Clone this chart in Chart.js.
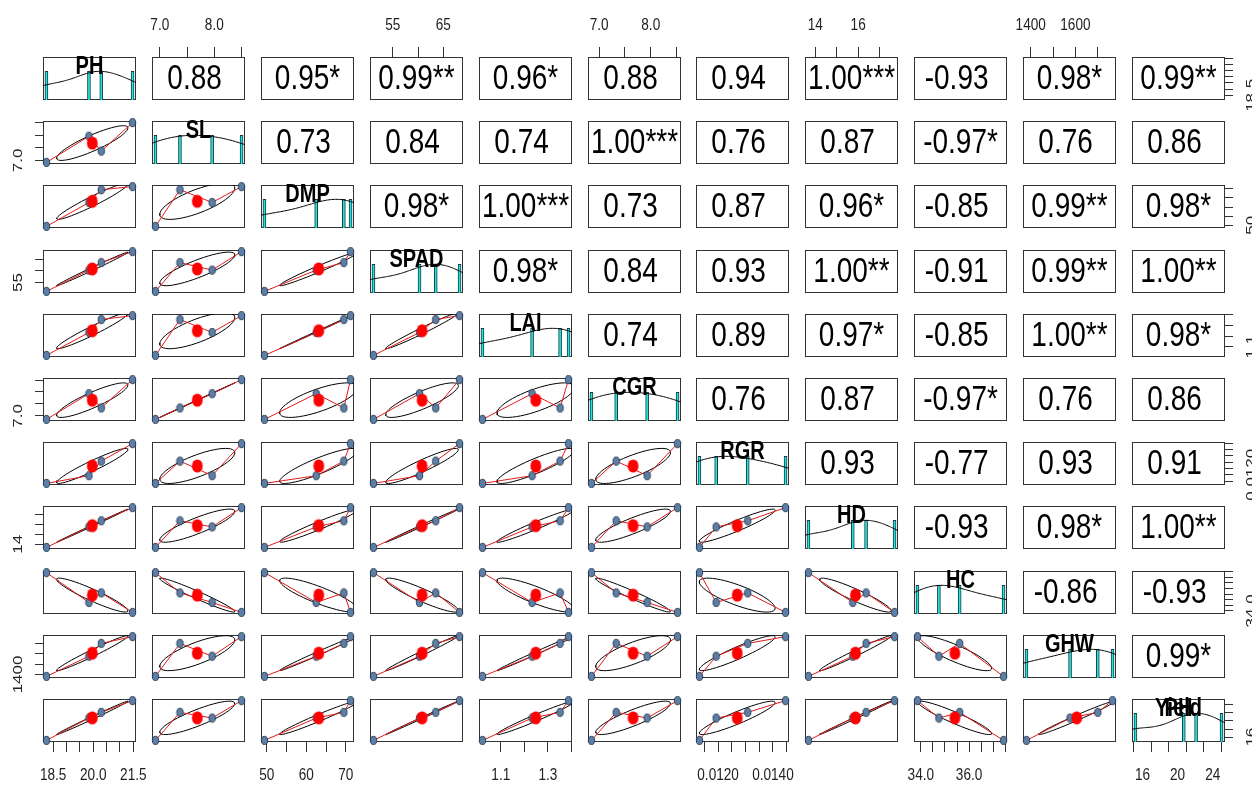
<!DOCTYPE html>
<html>
<head>
<meta charset="utf-8">
<script src="https://cdn.jsdelivr.net/npm/chart.js@4.4.1/dist/chart.umd.min.js"></script>
<style>
  html, body { margin: 0; padding: 0; background: #fff; }
  #wrap { position: relative; width: 1252px; height: 785px; overflow: hidden; }
  #wrap canvas { position: absolute; }
</style>
</head>
<body>
<div id="wrap"></div>
<script>
// variables (4 observations each, same order)
const names = ["PH", "SL", "DMP", "SPAD", "LAI", "CGR", "RGR", "HD", "HC", "GHW", "Yield"];
const PH    = [18.25, 19.84, 20.30, 21.47];
const SL    = [6.92, 7.96, 7.37, 8.50];
const DMP   = [49.4, 62.5, 69.5, 71.2];
const SPAD  = [51.2, 60.3, 63.5, 68.2];
const LAI   = [1.022, 1.233, 1.352, 1.388];
const CGR   = [6.85, 7.93, 7.33, 8.52];
const RGR   = [0.01132, 0.01193, 0.01308, 0.01446];
const HD    = [13.68, 15.75, 16.37, 17.70];
const HC    = [37.43, 34.75, 35.61, 33.86];
const GHW   = [1381, 1576, 1700, 1766];
const Yield = [15.2, 20.7, 22.1, 25.0];
const vars = [PH, SL, DMP, SPAD, LAI, CGR, RGR, HD, HC, GHW, Yield];

// correlations as printed (upper triangle, row by row)
const corText = [
  ["0.88", "0.95*", "0.99**", "0.96*", "0.88", "0.94", "1.00***", "-0.93", "0.98*", "0.99**"],
  ["0.73", "0.84", "0.74", "1.00***", "0.76", "0.87", "-0.97*", "0.76", "0.86"],
  ["0.98*", "1.00***", "0.73", "0.87", "0.96*", "-0.85", "0.99**", "0.98*"],
  ["0.98*", "0.84", "0.93", "1.00**", "-0.91", "0.99**", "1.00**"],
  ["0.74", "0.89", "0.97*", "-0.85", "1.00**", "0.98*"],
  ["0.76", "0.87", "-0.97*", "0.76", "0.86"],
  ["0.93", "-0.77", "0.93", "0.91"],
  ["-0.93", "0.98*", "1.00**"],
  ["-0.86", "-0.93"],
  ["0.99*"]
];

// tick positions and the labels that are printed
const tickVals = [
  [18.5, 19, 19.5, 20, 20.5, 21, 21.5],
  [7, 7.5, 8, 8.5],
  [50, 55, 60, 65, 70],
  [55, 60, 65],
  [1.1, 1.2, 1.3, 1.4],
  [7, 7.5, 8, 8.5],
  [0.0115, 0.012, 0.0125, 0.013, 0.0135, 0.014, 0.0145],
  [14, 15, 16, 17],
  [34, 34.5, 35, 35.5, 36, 36.5, 37, 37.5],
  [1400, 1500, 1600, 1700],
  [16, 18, 20, 22, 24]
];
const hLab = [["18.5", "20.0", "21.5"], ["7.0", "8.0"], ["50", "60", "70"], ["55", "65"], ["1.1", "1.3"],
  ["7.0", "8.0"], ["0.0120", "0.0140"], ["14", "16"], ["34.0", "36.0"], ["1400", "1600"], ["16", "20", "24"]];
const vLab = [["18.5"], ["7.0"], ["50"], ["55"], ["1.1"], ["7.0"], ["0.0120"], ["14"], ["34.0"], ["1400"], ["16"]];

const N = names.length;
const X0 = 43, DX = 108.9, Y0 = 57, DY = 64.2, PW = 93, PHT = 43;
const M = 60;
const FONT = '"Liberation Sans", Arial, sans-serif';
const SQ = 0.8; // horizontal squeeze of the original picture

function mean(a) { return a.reduce((s, v) => s + v, 0) / a.length; }
function sd(a) { const mu = mean(a); return Math.sqrt(a.reduce((s, v) => s + (v - mu) * (v - mu), 0) / (a.length - 1)); }
function cor(a, b) {
  const ma = mean(a), mb = mean(b);
  let sab = 0, saa = 0, sbb = 0;
  for (let k = 0; k < a.length; k++) {
    sab += (a[k] - ma) * (b[k] - mb); saa += (a[k] - ma) ** 2; sbb += (b[k] - mb) ** 2;
  }
  return sab / Math.sqrt(saa * sbb);
}
function quant(a, p) {
  const s = [...a].sort((x, y) => x - y);
  const h = (s.length - 1) * p, lo = Math.floor(h);
  return s[lo] + (h - lo) * (s[Math.min(lo + 1, s.length - 1)] - s[lo]);
}
function range(a) {
  const lo = Math.min(...a), hi = Math.max(...a), e = (hi - lo) * 0.04;
  return [lo - e, hi + e];
}
// kernel density, bw = nrd * 1.2, scaled to max 1
function densityLine(a) {
  const bw = 1.2 * 1.06 * Math.min(sd(a), (quant(a, 0.75) - quant(a, 0.25)) / 1.34) * Math.pow(a.length, -0.2);
  const lo = Math.min(...a) - 3 * bw, hi = Math.max(...a) + 3 * bw;
  const pts = [];
  for (let k = 0; k <= 200; k++) {
    const x = lo + (hi - lo) * k / 200;
    let y = 0;
    for (const v of a) y += Math.exp(-0.5 * ((x - v) / bw) ** 2);
    pts.push({ x, y });
  }
  const mx = Math.max(...pts.map(p => p.y));
  return pts.map(p => ({ x: p.x, y: p.y / mx }));
}
// correlation ellipse at one sd
function ellipse(xv, yv) {
  const xm = mean(xv), ym = mean(yv), xs = sd(xv), ys = sd(yv), r = cor(xv, yv);
  const th = (r !== 0 ? Math.sign(r) : 1) / Math.SQRT2;
  const a = Math.sqrt(1 + r), b = Math.sqrt(Math.max(0, 1 - r));
  const pts = [];
  for (let k = 0; k <= 51; k++) {
    const t = 2 * Math.PI * k / 51, c = Math.cos(t), s = Math.sin(t);
    pts.push({ x: (c * a * th - s * b * th) * xs + xm, y: (c * a * th + s * b * th) * ys + ym });
  }
  return pts;
}
function dot(rx, ry, fill, stroke) {
  const c = document.createElement('canvas');
  c.width = Math.ceil(rx * 2 + 2); c.height = Math.ceil(ry * 2 + 2);
  const g = c.getContext('2d');
  g.beginPath(); g.ellipse(c.width / 2, c.height / 2, rx, ry, 0, 0, 2 * Math.PI);
  g.fillStyle = fill; g.fill();
  if (stroke) { g.strokeStyle = stroke; g.lineWidth = 1; g.stroke(); }
  return c;
}
const bluePt = dot(3.2, 4.1, '#5b7fa6', '#2a3a50');
const redPt = dot(5.4, 6.6, '#ff0000', null);

function squeezedText(ctx, str, x, y, font, rot) {
  ctx.save();
  ctx.translate(x, y);
  ctx.scale(SQ, 1);
  if (rot) ctx.rotate(rot);
  ctx.font = font;
  ctx.textAlign = 'center';
  ctx.textBaseline = 'middle';
  ctx.fillText(str, 0, 0);
  ctx.restore();
}

const cellPlugin = {
  id: 'cell',
  beforeDatasetsDraw(chart) {
    const { ctx, chartArea: a } = chart;
    ctx.save();
    ctx.strokeStyle = '#333'; ctx.lineWidth = 1;
    ctx.strokeRect(a.left + 0.5, a.top + 0.5, a.width - 1, a.height - 1);
    ctx.restore();
  },
  afterDraw(chart, args, o) {
    const { ctx, chartArea: a } = chart;
    const i = o.i, j = o.j;
    const cx = a.left + a.width / 2;
    ctx.fillStyle = '#000';
    if (i < j) {
      let t = corText[i][j - i - 1];
      if (t.indexOf('*') < 0) t += ' ';
      squeezedText(ctx, t, cx, a.top + a.height / 2 + 1, '35px ' + FONT);
    } else if (i === j) {
      squeezedText(ctx, names[i], cx, a.top + 10, 'bold 25px ' + FONT);
      if (i === N - 1) squeezedText(ctx, names[0], cx, a.top + 10, 'bold 25px ' + FONT);
    }
    ctx.fillStyle = '#222';
    for (const id of ['x', 'y']) {
      const s = chart.scales[id];
      if (!s.options.display) continue;
      const v = id === 'x' ? j : i;
      const labs = s.isHorizontal() ? hLab[v] : vLab[v];
      for (const t of labs) {
        const p = s.getPixelForValue(parseFloat(t));
        const f = '17px ' + FONT;
        if (s.position === 'top') squeezedText(ctx, t, p, a.top - 32, f);
        else if (s.position === 'bottom') squeezedText(ctx, t, p, a.bottom + 33, f);
        else if (s.position === 'left') squeezedText(ctx, t, a.left - 25, p, f, -Math.PI / 2);
        else squeezedText(ctx, t, a.right + 26, p, f, -Math.PI / 2);
      }
    }
  }
};

function axisOpts(v, pos, shown, tl) {
  const [lo, hi] = range(vars[v]);
  const o = {
    type: 'linear', position: pos, min: lo, max: hi, display: shown, offset: false,
    grid: { display: true, drawOnChartArea: false, drawTicks: true, tickLength: tl, color: '#333', lineWidth: 1 },
    border: { display: false },
    ticks: { display: false },
    afterBuildTicks: s => { s.ticks = tickVals[v].filter(t => t >= lo && t <= hi).map(t => ({ value: t })); }
  };
  if (shown) o.afterFit = s => { if (s.isHorizontal()) s.height = M; else s.width = M; };
  return o;
}

const wrap = document.getElementById('wrap');
for (let i = 0; i < N; i++) {
  for (let j = 0; j < N; j++) {
    const axT = i === 0 && j % 2 === 1;
    const axB = i === N - 1 && j % 2 === 0;
    const axL = j === 0 && i % 2 === 1;
    const axR = j === N - 1 && i % 2 === 0;
    // every canvas reaches M px beyond its panel; axis sides give that room to the scale
    const pad = { left: axL ? 0 : M, right: axR ? 0 : M, top: axT ? 0 : M, bottom: axB ? 0 : M };
    const left = Math.round(X0 + j * DX), top = Math.round(Y0 + i * DY);
    const cv = document.createElement('canvas');
    cv.width = PW + 2 * M; cv.height = PHT + 2 * M;
    cv.style.left = (left - M) + 'px'; cv.style.top = (top - M) + 'px';
    cv.style.width = cv.width + 'px'; cv.style.height = cv.height + 'px';
    wrap.appendChild(cv);

    const scales = {
      x: axisOpts(j, axT ? 'top' : 'bottom', axT || axB, 10),
      y: axisOpts(i, axL ? 'left' : 'right', axL || axR, 8)
    };
    let datasets = [];
    if (i === j) {
      scales.yh = { type: 'linear', display: false, min: 0, max: 1.5 };
      datasets = [
        { type: 'line', data: densityLine(vars[i]), borderColor: '#000', borderWidth: 1,
          pointRadius: 0, yAxisID: 'yh', clip: 0, order: 1 },
        { type: 'bar', data: vars[i].map(v => ({ x: v, y: 1 })), backgroundColor: '#19e6e6',
          borderColor: '#1b3a3a', borderWidth: 1, barThickness: 3, grouped: false, yAxisID: 'yh', order: 2 }
      ];
    } else if (i > j) {
      const xv = vars[j], yv = vars[i];
      const pts = xv.map((x, k) => ({ x, y: yv[k] }));
      const sorted = [...pts].sort((p, q) => p.x - q.x);
      datasets = [
        { data: [{ x: mean(xv), y: mean(yv) }], pointStyle: redPt, pointRadius: 6, clip: 3, order: 0 },
        { data: pts, pointStyle: bluePt, pointRadius: 4, clip: 3, order: 1 },
        { data: sorted, showLine: true, borderColor: '#e31a1a', borderWidth: 1, pointRadius: 0, clip: 0, order: 2 },
        { data: ellipse(xv, yv), showLine: true, borderColor: '#000', borderWidth: 1, pointRadius: 0, clip: 0, order: 3 }
      ];
    }

    new Chart(cv, {
      type: 'scatter',
      data: { datasets },
      options: {
        responsive: false,
        animation: false,
        devicePixelRatio: 1,
        events: [],
        layout: { padding: pad },
        scales,
        plugins: { legend: { display: false }, tooltip: { enabled: false }, cell: { i, j } }
      },
      plugins: [cellPlugin]
    });
  }
}
</script>
</body>
</html>
